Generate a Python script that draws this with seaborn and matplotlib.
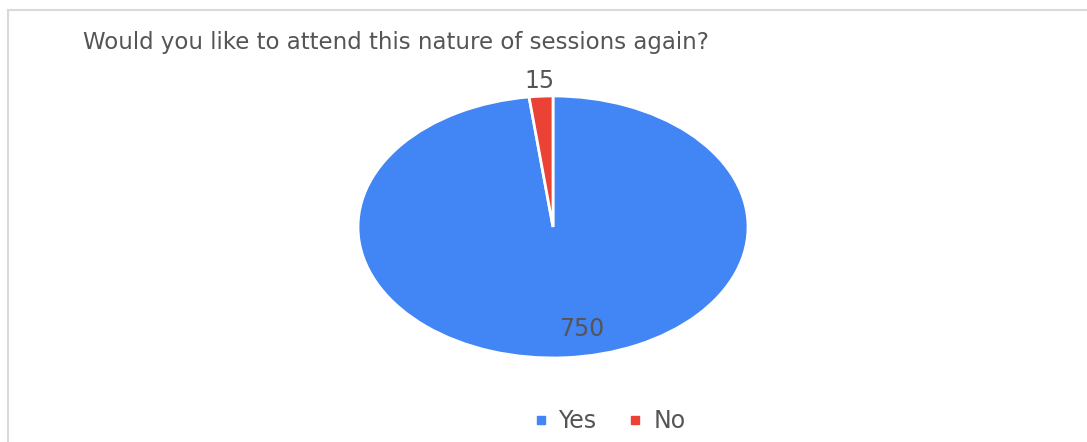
import matplotlib
matplotlib.use('Agg')
import matplotlib.pyplot as plt
from matplotlib.lines import Line2D
from matplotlib.patches import Rectangle
import seaborn as sns

# data
answers = ['Yes', 'No']
counts = [750, 15]
colors = ['#4285F4', '#EA4335']
title = 'Would you like to attend this nature of sessions again?'

sns.set_theme(style='white')
plt.rcParams['font.family'] = ['DejaVu Sans']
text_color = '#555555'

fig = plt.figure(figsize=(10.87, 4.42), dpi=100)
ax = fig.add_axes([0.2845, 0.116, 0.4485, 0.741])


def inner_label(pct):
    # only the big slice gets its value inside
    val = round(pct * sum(counts) / 100)
    return str(val) if val == counts[0] else ''


wedges, texts, autotexts = ax.pie(
    counts,
    labels=['', str(counts[1])],
    colors=colors,
    startangle=90,
    counterclock=False,
    labeldistance=1.12,
    autopct=inner_label,
    pctdistance=0.78,
    wedgeprops=dict(edgecolor='white', linewidth=2),
)
for t in texts + autotexts:
    t.set_ha('center')
    t.set_color(text_color)
    t.set_fontsize(17)
autotexts[0].set_x(autotexts[0].get_position()[0] + 0.1)
ax.set_aspect('auto')

fig.text(83 / 1087, 1 - 43 / 442, title, ha='left', va='center',
         fontsize=16.5, color=text_color)

handles = [Line2D([0], [0], marker='s', linestyle='', markersize=5.5,
                  markerfacecolor=c, markeredgecolor=c) for c in colors]
fig.legend(handles, answers, loc='center', bbox_to_anchor=(610 / 1087, 1 - 421 / 442),
           ncol=2, frameon=False, fontsize=17, handlelength=0.5, handletextpad=0.5,
           columnspacing=1.4, labelcolor=text_color)

# grey frame, cut off at right and bottom as in the reference
fig.add_artist(Rectangle((8 / 1087, -0.2), 1.2, 1.2 - 10 / 442,
                         transform=fig.transFigure, fill=False,
                         edgecolor='#d9d9d9', linewidth=1.5))

fig.savefig('out.png', dpi=100, facecolor='white')
